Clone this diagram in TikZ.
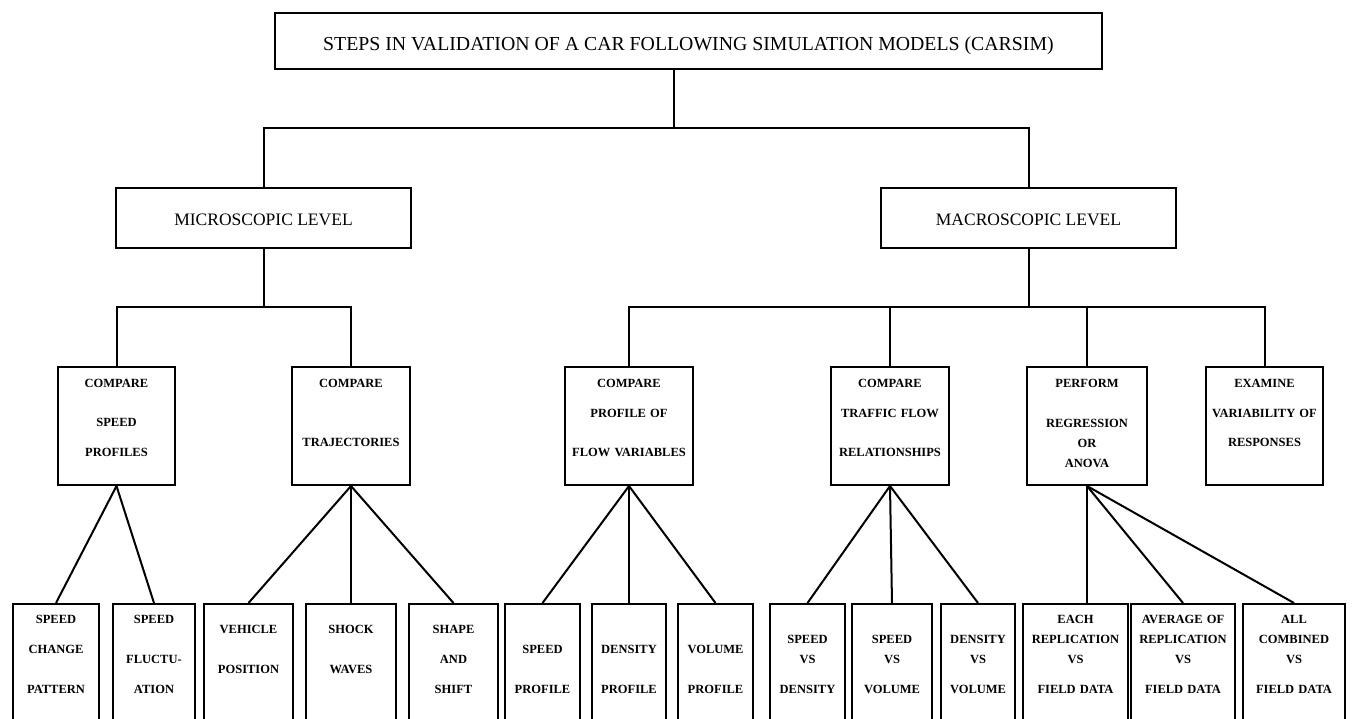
\documentclass[tikz,border=0pt]{standalone}
\usepackage{fontspec}
\setmainfont{Liberation Serif}

\begin{document}
\begin{tikzpicture}[x=1pt, y=-1pt, line width=2pt,
  headbox/.style={draw, inner sep=0pt, font=\fontsize{17.5}{21}\selectfont,
    text height=16pt, text depth=0pt},
  testbox/.style={draw, inner sep=0pt, anchor=north, align=center,
    font=\bfseries\fontsize{12.5}{20}\selectfont, text height=20pt, text depth=98pt},
  leafbox/.style={draw, inner sep=0pt, anchor=north, align=center,
    font=\bfseries\fontsize{12.5}{20}\selectfont, text depth=140pt}]

\clip (0,0) rectangle (1352,719);

\node[headbox, minimum width=827pt, minimum height=56pt,
  font=\fontsize{19.8}{24}\selectfont, text height=20pt] (top) at (688.5,41)
  {STEPS IN VALIDATION OF A CAR FOLLOWING SIMULATION MODELS (CARSIM)};

\node[headbox, minimum width=295pt, minimum height=60pt] (micro) at (263.5,218)
  {MICROSCOPIC LEVEL};
\node[headbox, minimum width=295pt, minimum height=60pt] (macro) at (1028.5,218)
  {MACROSCOPIC LEVEL};

\node[testbox, text width=117pt] (spd) at (116.5,366)
  {COMPARE\\[19pt] SPEED\\[10pt] PROFILES};
\node[testbox, text width=118pt] (traj) at (351,366)
  {COMPARE\\[39pt] TRAJECTORIES};
\node[testbox, text width=128pt] (flow) at (629,366)
  {COMPARE\\[10pt] PROFILE OF\\[19pt] FLOW VARIABLES};
\node[testbox, text width=118pt] (tfr) at (890,366)
  {COMPARE\\[10pt] TRAFFIC FLOW\\[19pt] RELATIONSHIPS};
\node[testbox, text width=120pt] (reg) at (1087,366)
  {PERFORM\\[20pt] REGRESSION\\ OR\\ ANOVA};
\node[testbox, text width=117pt] (exam) at (1264.5,366)
  {EXAMINE\\[10pt] VARIABILITY OF\\[9pt] RESPONSES};

\node[leafbox, text width=86pt, text height=19pt] (b1) at (56,603)
  {SPEED\\[10pt] CHANGE\\[20pt] PATTERN};
\node[leafbox, text width=82pt, text height=19pt] (b2) at (154,603)
  {SPEED\\[20pt] FLUCTU-\\[10pt] ATION};
\node[leafbox, text width=89pt, text height=29pt] (b3) at (248.5,603)
  {VEHICLE\\[20pt] POSITION};
\node[leafbox, text width=90pt, text height=29pt] (b4) at (351,603)
  {SHOCK\\[20pt] WAVES};
\node[leafbox, text width=89pt, text height=29pt] (b5) at (453.5,603)
  {SHAPE\\[10pt] AND\\[10pt] SHIFT};
\node[leafbox, text width=75pt, text height=49pt] (b6) at (542.5,603)
  {SPEED\\[20pt] PROFILE};
\node[leafbox, text width=74pt, text height=49pt] (b7) at (629,603)
  {DENSITY\\[20pt] PROFILE};
\node[leafbox, text width=75pt, text height=49pt] (b8) at (715.5,603)
  {VOLUME\\[20pt] PROFILE};
\node[leafbox, text width=75pt, text height=39pt] (b9) at (807.5,603)
  {SPEED\\ VS\\[10pt] DENSITY};
\node[leafbox, text width=80pt, text height=39pt] (b10) at (892,603)
  {SPEED\\ VS\\[10pt] VOLUME};
\node[leafbox, text width=74pt, text height=39pt] (b11) at (978,603)
  {DENSITY\\ VS\\[10pt] VOLUME};
\node[leafbox, text width=105pt, text height=19pt] (b12) at (1075.5,603)
  {EACH\\ REPLICATION\\ VS\\[10pt] FIELD DATA};
\node[leafbox, text width=104pt, text height=19pt] (b13) at (1183,603)
  {AVERAGE OF\\ REPLICATION\\ VS\\[10pt] FIELD DATA};
\node[leafbox, text width=102pt, text height=19pt] (b14) at (1294,603)
  {ALL\\ COMBINED\\ VS\\[10pt] FIELD DATA};

\coordinate (bus0) at (674,128);
\coordinate (bus1) at (262,307);

\draw (bus0 |- top.south) -- (bus0);
\draw (micro.north) |- (macro.north |- bus0) -- (macro.north);

\draw (micro.south) -- (micro.south |- bus1);
\draw (spd.north) |- (traj.north |- bus1) -- (traj.north);

\draw (macro.south) -- (macro.south |- bus1);
\draw (flow.north) |- (exam.north |- bus1) -- (exam.north);
\draw (tfr.north) -- (tfr.north |- bus1);
\draw (reg.north) -- (reg.north |- bus1);

\draw (spd.south) -- (b1.north);
\draw (spd.south) -- (b2.north);
\draw (traj.south) -- (b3.north);
\draw (traj.south) -- (b4.north);
\draw (traj.south) -- (b5.north);
\draw (flow.south) -- (b6.north);
\draw (flow.south) -- (b7.north);
\draw (flow.south) -- (b8.north);
\draw (tfr.south) -- (b9.north);
\draw (tfr.south) -- (b10.north);
\draw (tfr.south) -- (b11.north);
\draw (reg.south) -- (reg.south |- b12.north);
\draw (reg.south) -- (b13.north);
\draw (reg.south) -- (b14.north);

\end{tikzpicture}
\end{document}
